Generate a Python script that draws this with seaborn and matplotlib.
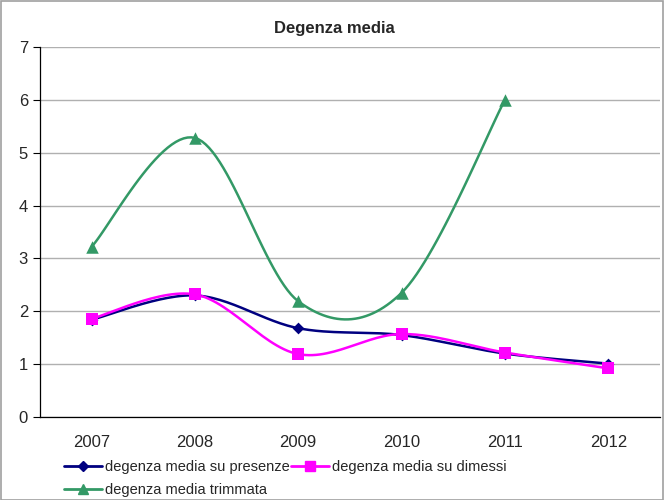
import numpy as np
import pandas as pd
import matplotlib
matplotlib.use("Agg")
import matplotlib.pyplot as plt
import seaborn as sns
from matplotlib.lines import Line2D

years = ["2007", "2008", "2009", "2010", "2011", "2012"]
presenze = [1.84, 2.30, 1.68, 1.55, 1.20, 1.01]
dimessi = [1.86, 2.32, 1.19, 1.57, 1.22, 0.92]
trimmata = [3.22, 5.28, 2.19, 2.35, 6.00, np.nan]

series_names = ["degenza media su presenze", "degenza media su dimessi", "degenza media trimmata"]
colors = ["#000080", "#FF00FF", "#339966"]
markers = ["D", "s", "^"]
msizes = [6, 9, 9]


def smooth(xs, ys, n=30):
    # excel-like smoothed line (bezier with catmull-rom control points)
    pts = np.column_stack([xs, ys])
    out = []
    for i in range(len(pts) - 1):
        p0 = pts[max(i - 1, 0)]
        p1 = pts[i]
        p2 = pts[i + 1]
        p3 = pts[min(i + 2, len(pts) - 1)]
        c1 = p1 + (p2 - p0) / 6
        c2 = p2 - (p3 - p1) / 6
        t = np.linspace(0, 1, n)[:, None]
        seg = (1 - t) ** 3 * p1 + 3 * (1 - t) ** 2 * t * c1 + 3 * (1 - t) * t ** 2 * c2 + t ** 3 * p2
        out.append(seg if i == 0 else seg[1:])
    out = np.vstack(out)
    return out[:, 0], out[:, 1]


sns.set_style("white")
plt.rcParams["font.family"] = ["Liberation Sans", "DejaVu Sans"]

fig = plt.figure(figsize=(6.64, 5), dpi=100)
ax = fig.add_axes([0.060, 0.166, 0.934, 0.740])

x = np.arange(len(years))
for name, vals, c, m, ms in zip(series_names, [presenze, dimessi, trimmata], colors, markers, msizes):
    v = np.array(vals, dtype=float)
    ok = ~np.isnan(v)
    sx, sy = smooth(x[ok].astype(float), v[ok])
    ax.plot(sx, sy, color=c, lw=1.8, zorder=3)
    df = pd.DataFrame({"x": x[ok], "y": v[ok]})
    sns.scatterplot(data=df, x="x", y="y", ax=ax, color=c, marker=m, s=ms ** 2,
                    edgecolor=c, linewidth=0, zorder=4, legend=False)

ax.set_xlim(-0.5, 5.5)
ax.set_ylim(0, 7)
ax.set_yticks(range(0, 8))
ax.set_xticks(x)
ax.set_xticklabels(years)
ax.set_xticks(np.arange(-0.5, 6, 1), minor=True)
ax.tick_params(axis="x", which="major", length=0, labelsize=12, pad=13)
ax.tick_params(axis="x", which="minor", length=5, width=0.8, color="#808080", direction="out")
ax.tick_params(axis="y", length=5, width=0.8, labelsize=12, direction="out", color="black", left=True)
ax.grid(axis="y", color="#b0b0b0", lw=1)
ax.set_axisbelow(True)
ax.set_xlabel("")
ax.set_ylabel("")
for s in ["top", "right"]:
    ax.spines[s].set_visible(False)
ax.spines["left"].set_color("black")
ax.spines["bottom"].set_color("black")
ax.spines["left"].set_linewidth(0.9)
ax.spines["bottom"].set_linewidth(0.9)

fig.text(0.503, 0.944, "Degenza media", ha="center", va="center", fontsize=12, fontweight="bold")

# legend fills column-wise, so order handles to read row by row
order = [0, 2, 1]
handles = [Line2D([0], [0], color=colors[i], marker=markers[i], markersize=msizes[i] * 0.8, lw=2)
           for i in order]
labels = [series_names[i] for i in order]
fig.legend(handles, labels, loc="upper left", bbox_to_anchor=(0.097, 0.080), ncol=2,
           frameon=False, fontsize=10.5, handlelength=2.6, handletextpad=0.15,
           columnspacing=0.15, labelspacing=0.65, borderaxespad=0, borderpad=0)

fig.patches.append(plt.Rectangle((0.001, 0.001), 0.997, 0.997, transform=fig.transFigure,
                                 fill=False, edgecolor="#a0a0a0", lw=1.2))

fig.savefig("out.png", dpi=100)
